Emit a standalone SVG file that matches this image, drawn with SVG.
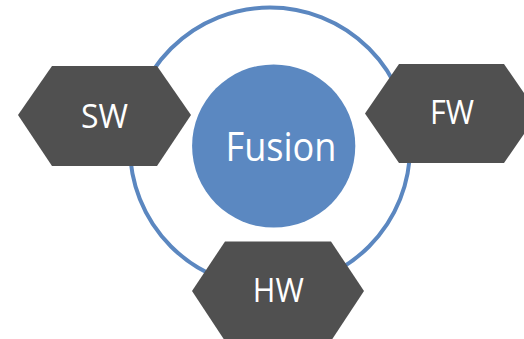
<svg xmlns="http://www.w3.org/2000/svg" width="524" height="339" viewBox="0 0 524 339">
<style>
.hex{fill:#505050;}
.lbl{font-family:"Open Sans","Liberation Sans",Arial,sans-serif;fill:#ffffff;text-anchor:middle;}
.small{font-size:32px;}
</style>
<rect width="524" height="339" fill="#ffffff"/>
<g id="connectors">
<circle cx="270" cy="147.5" r="140" fill="none" stroke="#5B87C0" stroke-width="4"/>
</g>
<g id="node-sw">
<polygon class="hex" points="18,115 52,66 157,66 191,115 157,166 52,166"/>
<text class="lbl small" x="104.5" y="127.7" textLength="47" lengthAdjust="spacingAndGlyphs">SW</text>
</g>
<g id="node-fw">
<polygon class="hex" points="365,113.5 399,64 504,64 538,113.5 504,163 399,163"/>
<text class="lbl small" x="452" y="124" textLength="44" lengthAdjust="spacingAndGlyphs">FW</text>
</g>
<g id="node-hw">
<polygon class="hex" points="192,291 225,241.5 331,241.5 364,291 331,341 225,341"/>
<text class="lbl small" x="278.3" y="302.3" textLength="51" lengthAdjust="spacingAndGlyphs">HW</text>
</g>
<g id="node-fusion">
<circle cx="273.7" cy="146" r="81.6" fill="#5B88C1"/>
<text class="lbl" x="281" y="161" font-size="41" textLength="111" lengthAdjust="spacingAndGlyphs">Fusion</text>
</g>
</svg>
